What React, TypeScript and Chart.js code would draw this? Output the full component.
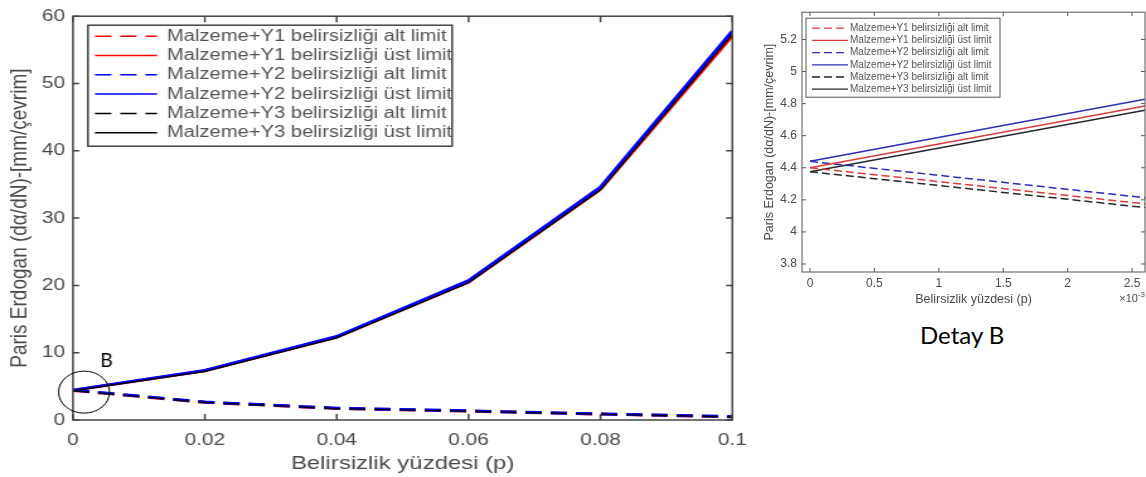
import React, { useEffect, useRef } from 'react';
import { Chart, registerables } from 'chart.js';

Chart.register(...registerables);

// ---------- data ----------
const xMain = [0, 0.02, 0.04, 0.06, 0.08, 0.1];
const y1Alt = [4.4, 2.63, 1.72, 1.32, 0.88, 0.48];
const y1Ust = [4.4, 7.32, 12.3, 20.5, 34.3, 57.1];
const y2Alt = [4.44, 2.67, 1.75, 1.35, 0.9, 0.5];
const y2Ust = [4.44, 7.36, 12.4, 20.7, 34.6, 57.8];
const y3Alt = [4.375, 2.6, 1.7, 1.3, 0.86, 0.47];
const y3Ust = [4.375, 7.22, 12.2, 20.4, 34.2, 57.3];

// detail B (x in units of 1e-3)
const xDetail = [0, 2.6];
const d1Alt = [4.4, 4.175];
const d1Ust = [4.4, 4.785];
const d2Alt = [4.44, 4.213];
const d2Ust = [4.44, 4.828];
const d3Alt = [4.375, 4.152];
const d3Ust = [4.375, 4.758];

const seriesLabels = [
  'Malzeme+Y1 belirsizliği alt limit',
  'Malzeme+Y1 belirsizliği üst limit',
  'Malzeme+Y2 belirsizliği alt limit',
  'Malzeme+Y2 belirsizliği üst limit',
  'Malzeme+Y3 belirsizliği alt limit',
  'Malzeme+Y3 belirsizliği üst limit',
];

const xTicksMain = [0, 0.02, 0.04, 0.06, 0.08, 0.1];
const yTicksMain = [0, 10, 20, 30, 40, 50, 60];
const xTicksDetail = [0, 0.5, 1, 1.5, 2, 2.5];
const yTicksDetail = [3.8, 4, 4.2, 4.4, 4.6, 4.8, 5, 5.2];

const xTitle = 'Belirsizlik yüzdesi (p)';
const yTitle = 'Paris Erdogan (dα/dN)-[mm/çevrim]';
const detailCaption = 'Detay B';

// ---------- style ----------
const FONT = "'Liberation Sans', Arial, Helvetica, sans-serif";
const CAPTION_FONT = "Lato, 'Open Sans', sans-serif";
const STRETCH = 1.26; // main panel is horizontally stretched in the reference
const TEXT = '#4a4a4a';

const fmt = (v: number) => String(Number(Number(v).toFixed(4)));
const pts = (xs: number[], ys: number[]) => xs.map((x, i) => ({ x, y: ys[i] }));

const framePlugin = {
  id: 'frame',
  afterDatasetsDraw(chart: any, _a: any, o: any) {
    const { ctx, chartArea: a, scales } = chart;
    ctx.save();
    ctx.strokeStyle = o.color;
    ctx.lineWidth = o.width;
    ctx.setLineDash([]);
    ctx.strokeRect(a.left, a.top, a.right - a.left, a.bottom - a.top);
    ctx.beginPath();
    scales.x.ticks.forEach((t: any) => {
      const px = scales.x.getPixelForValue(t.value);
      ctx.moveTo(px, a.bottom);
      ctx.lineTo(px, a.bottom - o.tick);
      ctx.moveTo(px, a.top);
      ctx.lineTo(px, a.top + o.tick);
    });
    scales.y.ticks.forEach((t: any) => {
      const py = scales.y.getPixelForValue(t.value);
      ctx.moveTo(a.left, py);
      ctx.lineTo(a.left + o.tickY, py);
      ctx.moveTo(a.right, py);
      ctx.lineTo(a.right - o.tickY, py);
    });
    ctx.stroke();
    ctx.restore();
  },
};

const boxLegendPlugin = {
  id: 'boxLegend',
  afterDraw(chart: any, _a: any, o: any) {
    const { ctx, chartArea } = chart;
    const x0 = chartArea.left + o.dx;
    const y0 = chartArea.top + o.dy;
    ctx.save();
    ctx.fillStyle = '#fff';
    ctx.fillRect(x0, y0, o.w, o.h);
    ctx.strokeStyle = o.border;
    ctx.lineWidth = o.borderWidth;
    ctx.strokeRect(x0, y0, o.w, o.h);
    ctx.font = `${o.fontSize}px ${FONT}`;
    ctx.textBaseline = 'middle';
    ctx.textAlign = 'left';
    chart.data.datasets.forEach((ds: any, i: number) => {
      const y = y0 + o.firstRow + i * o.rowH;
      ctx.beginPath();
      ctx.setLineDash(ds.borderDash || []);
      ctx.strokeStyle = ds.borderColor;
      ctx.lineWidth = o.sampleWidth;
      ctx.moveTo(x0 + o.s0, y);
      ctx.lineTo(x0 + o.s1, y);
      ctx.stroke();
      ctx.setLineDash([]);
      ctx.fillStyle = o.textColor;
      ctx.fillText(ds.label, x0 + o.tx, y);
    });
    ctx.restore();
  },
};

const markPlugin = {
  id: 'markB',
  afterDraw(chart: any, _a: any, o: any) {
    const { ctx, scales } = chart;
    const px = scales.x.getPixelForValue(o.x);
    const py = scales.y.getPixelForValue(o.y);
    ctx.save();
    ctx.strokeStyle = '#000';
    ctx.lineWidth = 1;
    ctx.setLineDash([]);
    ctx.beginPath();
    ctx.ellipse(px + o.ex, py + o.ey, o.rx, o.ry, 0, 0, Math.PI * 2);
    ctx.stroke();
    ctx.translate(px + o.tx, py + o.ty);
    ctx.scale(1 / o.stretch, 1);
    ctx.font = `${o.fontSize}px ${CAPTION_FONT}`;
    ctx.fillStyle = '#000';
    ctx.textAlign = 'left';
    ctx.textBaseline = 'alphabetic';
    ctx.fillText(o.text, 0, 0);
    ctx.restore();
  },
};

const exponentPlugin = {
  id: 'expo',
  afterDraw(chart: any, _a: any, o: any) {
    const { ctx, chartArea } = chart;
    ctx.save();
    ctx.fillStyle = o.color;
    ctx.textBaseline = 'alphabetic';
    ctx.textAlign = 'right';
    const xr = chartArea.right;
    const yb = chartArea.bottom + o.dy;
    ctx.font = `${o.supSize}px ${FONT}`;
    const supW = ctx.measureText(o.sup).width;
    ctx.fillText(o.sup, xr, yb - o.raise);
    ctx.font = `${o.size}px ${FONT}`;
    ctx.fillText(o.base, xr - supW, yb);
    ctx.restore();
  },
};

function lineSet(label: string, data: any[], color: string, dash: number[], width: number, order: number) {
  return {
    label,
    data,
    borderColor: color,
    backgroundColor: color,
    borderDash: dash,
    borderWidth: width,
    pointRadius: 0,
    tension: 0,
    fill: false,
    order,
  };
}

function MainChart() {
  const ref = useRef<HTMLCanvasElement | null>(null);
  useEffect(() => {
    if (!ref.current) return;
    const dash = [13, 7];
    const chart = new Chart(ref.current, {
      type: 'line',
      data: {
        datasets: [
          lineSet(seriesLabels[0], pts(xMain, y1Alt), '#ff0000', dash, 3, 2),
          lineSet(seriesLabels[1], pts(xMain, y1Ust), '#ff0000', [], 3, 2),
          lineSet(seriesLabels[2], pts(xMain, y2Alt), '#0000ff', dash, 3, 1),
          lineSet(seriesLabels[3], pts(xMain, y2Ust), '#0000ff', [], 3, 1),
          lineSet(seriesLabels[4], pts(xMain, y3Alt), '#000000', dash, 1.3, 0),
          lineSet(seriesLabels[5], pts(xMain, y3Ust), '#000000', [], 1.3, 0),
        ],
      },
      options: {
        animation: false,
        responsive: true,
        maintainAspectRatio: false,
        layout: { padding: { top: 13, right: 21.3, bottom: 0, left: 0 } },
        plugins: {
          legend: { display: false },
          tooltip: { enabled: false },
          frame: { color: '#444', width: 1.5, tick: 6, tickY: 5 },
          boxLegend: {
            dx: 11.9, dy: 9, w: 289, h: 121, firstRow: 11, rowH: 19.3,
            s0: 5.6, s1: 54.8, tx: 62.7, fontSize: 16, sampleWidth: 1.5,
            border: '#444', borderWidth: 1.5, textColor: '#555',
          },
          markB: {
            x: xMain[0], y: y2Ust[0], ex: 8.8, ey: 2, rx: 20.2, ry: 21,
            tx: 21.5, ty: -23, stretch: STRETCH, fontSize: 19.5, text: 'B',
          },
        } as any,
        scales: {
          x: {
            type: 'linear',
            min: 0,
            max: 0.1,
            afterBuildTicks: (s: any) => { s.ticks = xTicksMain.map((v) => ({ value: v })); },
            afterFit: (s: any) => { s.height = 57; },
            grid: { display: false, drawTicks: false },
            border: { display: false },
            ticks: {
              font: { family: FONT, size: 16.5 },
              color: TEXT,
              padding: 10.5,
              maxRotation: 0,
              autoSkip: false,
              callback: (v: any) => fmt(v),
            },
            title: {
              display: true,
              text: xTitle,
              font: { family: FONT, size: 19 },
              color: TEXT,
              padding: { top: 0, bottom: 1.6 },
            },
          },
          y: {
            type: 'linear',
            min: 0,
            max: 60,
            afterBuildTicks: (s: any) => { s.ticks = yTicksMain.map((v) => ({ value: v })); },
            afterFit: (s: any) => { s.width = 57.9; },
            grid: { display: false, drawTicks: false },
            border: { display: false },
            ticks: {
              font: { family: FONT, size: 16.5 },
              color: TEXT,
              padding: 6.3,
              autoSkip: false,
              callback: (v: any) => fmt(v),
            },
            title: {
              display: true,
              text: yTitle,
              font: { family: FONT, size: 19 },
              color: TEXT,
              padding: { top: 4.5, bottom: 0 },
            },
          },
        },
      },
      plugins: [framePlugin, boxLegendPlugin, markPlugin],
    } as any);
    return () => chart.destroy();
  }, []);
  return (
    <div
      style={{
        position: 'absolute',
        left: 0,
        top: 0,
        width: 760 / STRETCH,
        height: 477,
        transform: `scaleX(${STRETCH})`,
        transformOrigin: '0 0',
      }}
    >
      <canvas ref={ref} />
    </div>
  );
}

function DetailChart() {
  const ref = useRef<HTMLCanvasElement | null>(null);
  useEffect(() => {
    if (!ref.current) return;
    const dash = [8, 4];
    const red = '#dd3a3a';
    const blue = '#2c2cbc';
    const black = '#262626';
    const chart = new Chart(ref.current, {
      type: 'line',
      data: {
        datasets: [
          lineSet(seriesLabels[0], pts(xDetail, d1Alt), red, dash, 1.5, 0),
          lineSet(seriesLabels[1], pts(xDetail, d1Ust), red, [], 1.5, 0),
          lineSet(seriesLabels[2], pts(xDetail, d2Alt), blue, dash, 1.5, 0),
          lineSet(seriesLabels[3], pts(xDetail, d2Ust), blue, [], 1.5, 0),
          lineSet(seriesLabels[4], pts(xDetail, d3Alt), black, dash, 1.5, 0),
          lineSet(seriesLabels[5], pts(xDetail, d3Ust), black, [], 1.5, 0),
        ],
      },
      options: {
        animation: false,
        responsive: true,
        maintainAspectRatio: false,
        layout: { padding: { top: 9, right: 1, bottom: 0, left: 0 } },
        plugins: {
          legend: { display: false },
          tooltip: { enabled: false },
          frame: { color: '#555', width: 1, tick: 4, tickY: 4 },
          boxLegend: {
            dx: 4, dy: 6, w: 194, h: 79, firstRow: 10, rowH: 12.2,
            s0: 6, s1: 42, tx: 44, fontSize: 10, sampleWidth: 1.3,
            border: '#555', borderWidth: 1, textColor: '#555',
          },
          expo: { base: '×10', sup: '-3', size: 11, supSize: 8, raise: 5, dy: 30, color: TEXT },
        } as any,
        scales: {
          x: {
            type: 'linear',
            min: -0.062,
            max: 2.6,
            afterBuildTicks: (s: any) => { s.ticks = xTicksDetail.map((v) => ({ value: v })); },
            afterFit: (s: any) => { s.height = 48; },
            grid: { display: false, drawTicks: false },
            border: { display: false },
            ticks: {
              font: { family: FONT, size: 12 },
              color: TEXT,
              padding: 4,
              maxRotation: 0,
              autoSkip: false,
              callback: (v: any) => fmt(v),
            },
            title: {
              display: true,
              text: xTitle,
              font: { family: FONT, size: 12.5 },
              color: TEXT,
              padding: { top: 0, bottom: 12.5 },
            },
          },
          y: {
            type: 'linear',
            min: 3.75,
            max: 5.37,
            afterBuildTicks: (s: any) => { s.ticks = yTicksDetail.map((v) => ({ value: v })); },
            afterFit: (s: any) => { s.width = 42; },
            grid: { display: false, drawTicks: false },
            border: { display: false },
            ticks: {
              font: { family: FONT, size: 12 },
              color: TEXT,
              padding: 5,
              autoSkip: false,
              callback: (v: any) => fmt(v),
            },
            title: {
              display: true,
              text: yTitle,
              font: { family: FONT, size: 12.5 },
              color: TEXT,
              padding: { top: 2.5, bottom: 0 },
            },
          },
        },
      },
      plugins: [framePlugin, boxLegendPlugin, exponentPlugin],
    } as any);
    return () => chart.destroy();
  }, []);
  return (
    <div style={{ position: 'absolute', left: 760, top: 0, width: 386, height: 320 }}>
      <canvas ref={ref} />
    </div>
  );
}

export default function App() {
  return (
    <div style={{ position: 'absolute', left: 0, top: 0, width: 1146, height: 477, background: '#fff', overflow: 'hidden' }}>
      <MainChart />
      <DetailChart />
      <div
        style={{
          position: 'absolute',
          left: 920,
          top: 323,
          fontFamily: CAPTION_FONT,
          fontSize: 24,
          lineHeight: '24px',
          color: '#000',
          whiteSpace: 'nowrap',
        }}
      >
        {detailCaption}
      </div>
    </div>
  );
}
